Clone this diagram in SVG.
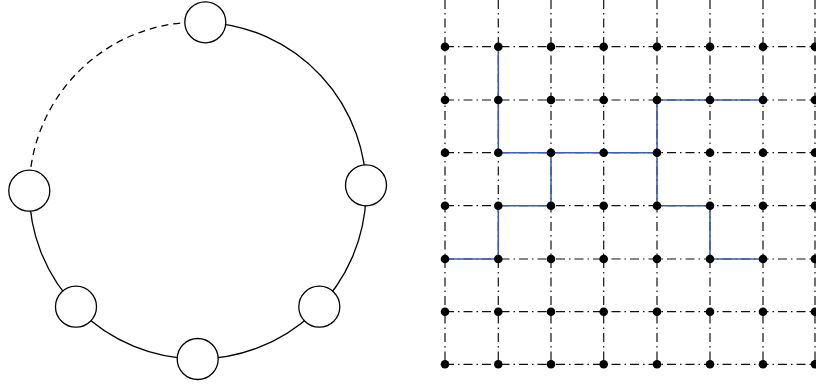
<svg xmlns="http://www.w3.org/2000/svg" width="816" height="386" viewBox="0 0 816 386">
<style>
.ring{fill:none;stroke:#000;stroke-width:1.3}
.dash{stroke-dasharray:7 5}
.node{fill:#fff;stroke:#000;stroke-width:1.3}
.grid{fill:none;stroke:#111;stroke-width:1.2;stroke-dasharray:9 4 1.5 4}
.dot{fill:#000}
.route{fill:none;stroke:#3f5fb0;stroke-width:1.6;stroke-linejoin:miter}
</style>
<rect width="816" height="386" fill="#fff"/>
<g id="connectors">
<path class="ring dash" d="M29.3,190.7 A168.4,168.4 0 0 1 205.3,22.3"/>
<path class="ring" d="M205.3,22.3 A168.4,168.4 0 1 1 29.3,190.7"/>
</g>
<g id="node-top"><circle class="node" cx="205.3" cy="22.3" r="20.5"/></g>
<g id="node-right"><circle class="node" cx="366" cy="185.3" r="20.5"/></g>
<g id="node-bottom-right"><circle class="node" cx="319.3" cy="306.7" r="20.5"/></g>
<g id="node-bottom"><circle class="node" cx="197.7" cy="359" r="20.5"/></g>
<g id="node-bottom-left"><circle class="node" cx="76" cy="306.7" r="20.5"/></g>
<g id="node-left"><circle class="node" cx="29.3" cy="190.7" r="20.5"/></g>
<g id="grid">
<path class="grid" d="M445,0V364.3M498.3,0V364.3M551,0V364.3M603.7,0V364.3M657,0V364.3M710,0V364.3M763,0V364.3M815,0V364.3"/>
<path class="grid" d="M445,46.7H816M445,100H816M445,152.7H816M445,205.7H816M445,259H816M445,311.7H816M445,364.3H816"/>
</g>
<g id="route">
<path class="route" d="M498.3,46.7V152.7H657V100H763"/>
<path class="route" d="M551,152.7V205.7H498.3V259H445"/>
<path class="route" d="M657,152.7V205.7H710V259H763"/>
</g>
<g id="dots">
<g class="dot">
<circle cx="445" cy="46.7" r="4.3"/><circle cx="498.3" cy="46.7" r="4.3"/><circle cx="551" cy="46.7" r="4.3"/><circle cx="603.7" cy="46.7" r="4.3"/><circle cx="657" cy="46.7" r="4.3"/><circle cx="710" cy="46.7" r="4.3"/><circle cx="763" cy="46.7" r="4.3"/><circle cx="815" cy="46.7" r="4.3"/>
<circle cx="445" cy="100" r="4.3"/><circle cx="498.3" cy="100" r="4.3"/><circle cx="551" cy="100" r="4.3"/><circle cx="603.7" cy="100" r="4.3"/><circle cx="657" cy="100" r="4.3"/><circle cx="710" cy="100" r="4.3"/><circle cx="763" cy="100" r="4.3"/><circle cx="815" cy="100" r="4.3"/>
<circle cx="445" cy="152.7" r="4.3"/><circle cx="498.3" cy="152.7" r="4.3"/><circle cx="551" cy="152.7" r="4.3"/><circle cx="603.7" cy="152.7" r="4.3"/><circle cx="657" cy="152.7" r="4.3"/><circle cx="710" cy="152.7" r="4.3"/><circle cx="763" cy="152.7" r="4.3"/><circle cx="815" cy="152.7" r="4.3"/>
<circle cx="445" cy="205.7" r="4.3"/><circle cx="498.3" cy="205.7" r="4.3"/><circle cx="551" cy="205.7" r="4.3"/><circle cx="603.7" cy="205.7" r="4.3"/><circle cx="657" cy="205.7" r="4.3"/><circle cx="710" cy="205.7" r="4.3"/><circle cx="763" cy="205.7" r="4.3"/><circle cx="815" cy="205.7" r="4.3"/>
<circle cx="445" cy="259" r="4.3"/><circle cx="498.3" cy="259" r="4.3"/><circle cx="551" cy="259" r="4.3"/><circle cx="603.7" cy="259" r="4.3"/><circle cx="657" cy="259" r="4.3"/><circle cx="710" cy="259" r="4.3"/><circle cx="763" cy="259" r="4.3"/><circle cx="815" cy="259" r="4.3"/>
<circle cx="445" cy="311.7" r="4.3"/><circle cx="498.3" cy="311.7" r="4.3"/><circle cx="551" cy="311.7" r="4.3"/><circle cx="603.7" cy="311.7" r="4.3"/><circle cx="657" cy="311.7" r="4.3"/><circle cx="710" cy="311.7" r="4.3"/><circle cx="763" cy="311.7" r="4.3"/><circle cx="815" cy="311.7" r="4.3"/>
<circle cx="445" cy="364.3" r="4.3"/><circle cx="498.3" cy="364.3" r="4.3"/><circle cx="551" cy="364.3" r="4.3"/><circle cx="603.7" cy="364.3" r="4.3"/><circle cx="657" cy="364.3" r="4.3"/><circle cx="710" cy="364.3" r="4.3"/><circle cx="763" cy="364.3" r="4.3"/><circle cx="815" cy="364.3" r="4.3"/>
</g>
</g>
</svg>
